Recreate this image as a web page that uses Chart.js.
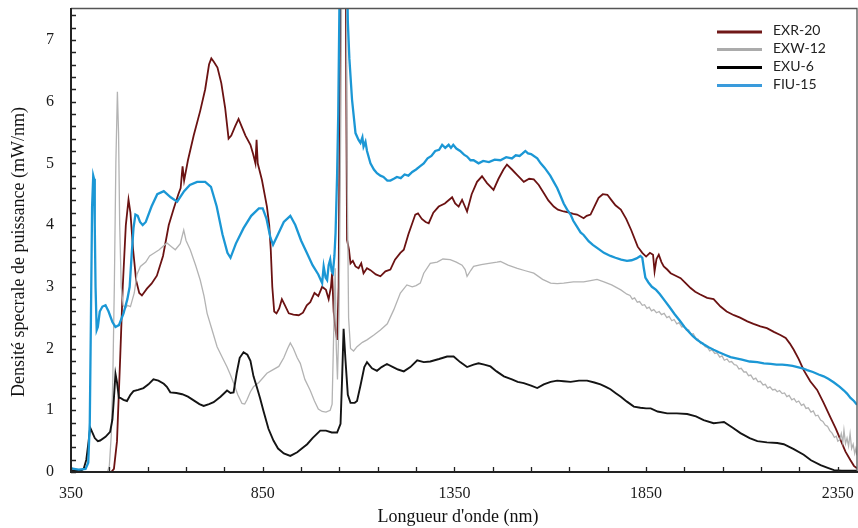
<!DOCTYPE html>
<html>
<head>
<meta charset="utf-8">
<script src="https://cdn.jsdelivr.net/npm/chart.js@4/dist/chart.umd.min.js"></script>
<style>
html,body{margin:0;padding:0;background:#fff;}
canvas{display:block;}
</style>
</head>
<body>
<canvas id="c" width="858" height="528"></canvas>
<script>
// ---- data: [wavelength nm, spectral power density mW/nm] ----
const seriesNames = ["EXR-20", "EXW-12", "EXU-6", "FIU-15"];

const exr20 = [[350,0],[455,0],[462,0.05],[470,0.5],[478,1.8],[485,3.0],[493,4.0],[500,4.41],[505,4.2],[512,3.6],[520,3.1],[528,2.9],[535,2.86],[548,2.97],[560,3.05],[574,3.18],[590,3.5],[605,4.0],[618,4.27],[630,4.5],[636,4.6],[641,4.95],[645,4.72],[655,5.05],[670,5.45],[687,5.85],[700,6.2],[710,6.6],[716,6.7],[722,6.65],[732,6.55],[742,6.3],[752,5.9],[761,5.4],[768,5.45],[778,5.6],[787,5.72],[795,5.6],[805,5.45],[818,5.3],[825,5.15],[831,5.0],[834,5.38],[837,5.0],[848,4.73],[861,4.3],[867,4.0],[871,3.6],[875,3.0],[880,2.6],[886,2.57],[893,2.65],[900,2.8],[908,2.7],[918,2.57],[930,2.55],[944,2.54],[955,2.58],[965,2.7],[974,2.75],[985,2.9],[995,2.85],[1005,3.0],[1015,2.95],[1022,2.8],[1028,3.0],[1031,3.22],[1035,2.6],[1040,2.3],[1044,2.14],[1048,3.0],[1052,7.0],[1058,12],[1064,12],[1068,6],[1070,3.76],[1075,3.6],[1079,3.38],[1085,3.42],[1092,3.33],[1100,3.3],[1107,3.38],[1113,3.22],[1122,3.3],[1131,3.27],[1145,3.2],[1157,3.17],[1170,3.25],[1183,3.28],[1195,3.44],[1209,3.55],[1218,3.6],[1230,3.85],[1248,4.17],[1255,4.19],[1265,4.1],[1275,4.05],[1283,4.03],[1295,4.2],[1309,4.3],[1325,4.35],[1344,4.45],[1352,4.35],[1361,4.3],[1370,4.41],[1383,4.22],[1395,4.5],[1409,4.7],[1422,4.79],[1435,4.68],[1452,4.57],[1465,4.75],[1478,4.9],[1487,4.98],[1500,4.9],[1514,4.81],[1531,4.7],[1545,4.75],[1557,4.74],[1570,4.65],[1583,4.52],[1595,4.4],[1609,4.3],[1620,4.25],[1635,4.22],[1650,4.2],[1660,4.18],[1670,4.17],[1687,4.11],[1695,4.15],[1705,4.17],[1715,4.3],[1726,4.44],[1737,4.5],[1749,4.49],[1760,4.4],[1770,4.32],[1784,4.25],[1798,4.1],[1811,3.92],[1828,3.65],[1840,3.55],[1850,3.49],[1860,3.55],[1868,3.52],[1872,3.25],[1877,3.45],[1883,3.52],[1890,3.4],[1896,3.33],[1905,3.28],[1914,3.22],[1927,3.18],[1940,3.14],[1953,3.06],[1966,2.98],[1978,2.92],[1990,2.88],[2009,2.82],[2026,2.8],[2044,2.68],[2060,2.6],[2079,2.54],[2095,2.5],[2114,2.44],[2130,2.4],[2148,2.36],[2165,2.33],[2183,2.27],[2200,2.22],[2214,2.17],[2225,2.08],[2235,1.98],[2248,1.83],[2261,1.65],[2278,1.47],[2296,1.33],[2313,1.12],[2331,0.88],[2345,0.7],[2357,0.52],[2370,0.33],[2383,0.19],[2392,0.1],[2400,0.06]];

const exw12 = [[350,0],[445,0],[450,0.1],[455,0.6],[459,1.5],[463,3.0],[467,5.0],[471,6.16],[474,5.5],[477,4.0],[481,3.0],[486,2.7],[492,2.65],[497,2.7],[505,2.68],[515,2.9],[522,3.2],[531,3.33],[545,3.4],[555,3.5],[565,3.54],[580,3.6],[600,3.71],[612,3.65],[622,3.6],[635,3.7],[644,3.92],[650,3.75],[661,3.6],[675,3.35],[687,3.11],[697,2.85],[705,2.57],[718,2.3],[731,2.03],[745,1.85],[757,1.7],[766,1.57],[774,1.44],[785,1.25],[796,1.11],[803,1.1],[809,1.17],[818,1.3],[826,1.38],[840,1.45],[861,1.6],[875,1.65],[892,1.71],[905,1.85],[915,2.0],[922,2.09],[930,2.0],[940,1.85],[948,1.76],[960,1.5],[974,1.32],[985,1.15],[995,1.02],[1005,0.98],[1015,0.97],[1026,1.0],[1031,1.1],[1036,2.5],[1039,3.3],[1042,2.0],[1045,1.5],[1049,2.5],[1054,6],[1060,12],[1066,12],[1070,5],[1074,2.5],[1079,2.0],[1087,1.96],[1096,2.03],[1110,2.1],[1122,2.14],[1140,2.22],[1157,2.3],[1175,2.4],[1192,2.63],[1209,2.9],[1226,3.03],[1240,3.0],[1250,3.02],[1261,3.06],[1270,3.22],[1287,3.38],[1305,3.4],[1320,3.45],[1339,3.44],[1355,3.4],[1370,3.35],[1378,3.28],[1383,3.17],[1392,3.26],[1400,3.33],[1420,3.36],[1440,3.38],[1461,3.4],[1470,3.41],[1490,3.35],[1514,3.3],[1535,3.26],[1557,3.22],[1580,3.12],[1601,3.06],[1618,3.05],[1635,3.06],[1660,3.08],[1687,3.08],[1705,3.1],[1722,3.12],[1740,3.08],[1760,3.03],[1784,2.95],[1800,2.88],[1808,2.86],[1814,2.8],[1820,2.82],[1827,2.75],[1833,2.76],[1840,2.7],[1846,2.71],[1852,2.65],[1858,2.67],[1864,2.61],[1870,2.63],[1877,2.58],[1884,2.6],[1890,2.55],[1897,2.57],[1904,2.5],[1910,2.52],[1917,2.45],[1923,2.47],[1930,2.4],[1936,2.42],[1943,2.35],[1949,2.36],[1955,2.3],[1961,2.3],[1967,2.23],[1973,2.24],[1980,2.16],[1986,2.15],[1992,2.08],[1998,2.09],[2004,2.03],[2010,2.02],[2016,1.96],[2022,1.98],[2029,1.92],[2035,1.93],[2042,1.86],[2048,1.88],[2054,1.81],[2061,1.83],[2067,1.78],[2073,1.79],[2080,1.74],[2086,1.73],[2092,1.67],[2098,1.68],[2105,1.62],[2111,1.62],[2117,1.56],[2123,1.57],[2130,1.5],[2136,1.52],[2142,1.46],[2148,1.47],[2155,1.41],[2161,1.42],[2167,1.36],[2173,1.38],[2180,1.33],[2186,1.34],[2192,1.3],[2198,1.32],[2205,1.27],[2211,1.28],[2217,1.22],[2223,1.24],[2230,1.17],[2236,1.19],[2242,1.13],[2248,1.15],[2255,1.08],[2261,1.1],[2267,1.03],[2273,1.04],[2280,0.97],[2286,0.99],[2292,0.91],[2298,0.92],[2305,0.84],[2311,0.82],[2317,0.76],[2323,0.74],[2329,0.67],[2335,0.63],[2341,0.56],[2346,0.58],[2350,0.5],[2355,0.52],[2359,0.62],[2363,0.48],[2366,0.68],[2370,0.46],[2374,0.55],[2378,0.42],[2382,0.62],[2386,0.38],[2390,0.45],[2394,0.3],[2397,0.38],[2400,0.27]];

const exu6 = [[350,0.02],[375,0.02],[383,0.05],[390,0.2],[396,0.5],[400,0.72],[405,0.65],[412,0.55],[420,0.5],[426,0.51],[440,0.57],[452,0.65],[458,0.85],[462,1.2],[466,1.59],[470,1.45],[475,1.2],[479,1.2],[487,1.17],[496,1.15],[505,1.25],[513,1.31],[525,1.33],[539,1.36],[552,1.42],[565,1.5],[578,1.48],[592,1.43],[600,1.38],[609,1.29],[625,1.28],[640,1.26],[655,1.22],[670,1.16],[685,1.1],[696,1.07],[710,1.1],[722,1.13],[740,1.22],[757,1.32],[766,1.28],[774,1.29],[782,1.6],[790,1.85],[800,1.94],[810,1.9],[818,1.8],[826,1.55],[835,1.37],[843,1.2],[852,0.99],[865,0.7],[878,0.51],[890,0.38],[905,0.3],[922,0.26],[940,0.32],[952,0.38],[966,0.45],[980,0.55],[1000,0.67],[1015,0.67],[1030,0.64],[1044,0.64],[1053,0.78],[1057,1.5],[1061,2.32],[1066,1.8],[1072,1.25],[1079,1.12],[1090,1.12],[1096,1.15],[1105,1.4],[1115,1.7],[1122,1.78],[1135,1.68],[1148,1.64],[1160,1.7],[1174,1.75],[1190,1.7],[1203,1.66],[1218,1.63],[1235,1.7],[1253,1.81],[1270,1.78],[1287,1.79],[1310,1.83],[1331,1.87],[1348,1.87],[1365,1.78],[1383,1.7],[1400,1.74],[1413,1.76],[1428,1.74],[1444,1.71],[1460,1.63],[1479,1.55],[1500,1.5],[1515,1.46],[1531,1.44],[1550,1.4],[1566,1.36],[1583,1.42],[1601,1.46],[1618,1.48],[1635,1.47],[1653,1.46],[1675,1.48],[1696,1.48],[1715,1.45],[1731,1.42],[1745,1.38],[1757,1.34],[1770,1.28],[1784,1.22],[1800,1.14],[1818,1.06],[1835,1.04],[1850,1.03],[1862,1.03],[1880,0.98],[1905,0.95],[1930,0.95],[1957,0.94],[1980,0.9],[2000,0.84],[2026,0.79],[2040,0.8],[2053,0.81],[2075,0.72],[2096,0.63],[2120,0.55],[2140,0.5],[2165,0.48],[2192,0.47],[2209,0.45],[2235,0.37],[2261,0.28],[2280,0.19],[2305,0.11],[2322,0.07],[2340,0.03],[2360,0.02],[2400,0.02]];

const fiu15 = [[350,0.06],[370,0.04],[388,0.05],[395,0.15],[399,0.8],[402,2.5],[405,4.3],[408,4.8],[410,4.75],[412,4.0],[414,3.0],[417,2.3],[420,2.35],[425,2.6],[432,2.68],[440,2.7],[448,2.6],[458,2.43],[466,2.35],[475,2.38],[487,2.57],[497,2.8],[503,3.0],[508,3.5],[513,3.95],[518,4.17],[524,4.15],[530,4.05],[537,4.0],[545,4.05],[560,4.3],[575,4.5],[592,4.55],[610,4.45],[627,4.38],[645,4.55],[660,4.65],[679,4.7],[700,4.7],[715,4.62],[730,4.3],[745,3.85],[758,3.55],[766,3.47],[780,3.7],[800,3.95],[820,4.15],[840,4.27],[850,4.27],[860,4.1],[870,3.8],[877,3.68],[890,3.85],[905,4.05],[922,4.15],[935,4.0],[950,3.75],[965,3.55],[980,3.35],[995,3.2],[1005,3.06],[1009,3.33],[1014,3.15],[1018,3.11],[1022,3.35],[1026,3.44],[1030,3.25],[1033,3.22],[1037,3.5],[1040,3.87],[1044,4.8],[1047,5.8],[1050,7.5],[1056,10],[1062,12],[1068,9],[1072,7.3],[1076,6.7],[1083,6.03],[1092,5.49],[1100,5.38],[1105,5.33],[1110,5.42],[1113,5.27],[1118,5.35],[1122,5.2],[1131,5.0],[1140,4.9],[1148,4.84],[1157,4.8],[1165,4.78],[1175,4.72],[1183,4.72],[1192,4.75],[1200,4.78],[1210,4.76],[1220,4.82],[1230,4.8],[1240,4.86],[1250,4.9],[1260,4.95],[1270,5.0],[1280,5.08],[1290,5.12],[1300,5.2],[1310,5.22],[1318,5.3],[1326,5.25],[1335,5.3],[1341,5.25],[1347,5.3],[1355,5.24],[1365,5.2],[1375,5.14],[1383,5.11],[1392,5.05],[1400,5.05],[1413,5.0],[1425,5.04],[1440,5.02],[1455,5.06],[1470,5.05],[1485,5.1],[1500,5.08],[1510,5.13],[1520,5.12],[1528,5.16],[1535,5.2],[1542,5.16],[1550,5.15],[1566,5.08],[1575,5.0],[1585,4.93],[1600,4.8],[1609,4.7],[1618,4.6],[1625,4.5],[1635,4.35],[1644,4.25],[1653,4.17],[1660,4.07],[1670,3.97],[1679,3.88],[1687,3.84],[1700,3.74],[1711,3.68],[1722,3.63],[1740,3.55],[1757,3.5],[1770,3.47],[1785,3.44],[1800,3.42],[1812,3.43],[1825,3.46],[1835,3.5],[1840,3.47],[1844,3.3],[1848,3.15],[1856,3.07],[1865,3.0],[1876,2.95],[1886,2.88],[1898,2.78],[1910,2.68],[1924,2.56],[1938,2.45],[1950,2.35],[1960,2.28],[1972,2.2],[1983,2.14],[2000,2.07],[2013,2.02],[2026,1.98],[2040,1.94],[2055,1.9],[2070,1.86],[2085,1.84],[2100,1.82],[2120,1.79],[2140,1.78],[2157,1.76],[2175,1.75],[2190,1.74],[2205,1.74],[2218,1.73],[2232,1.72],[2245,1.7],[2258,1.68],[2270,1.65],[2285,1.62],[2300,1.58],[2313,1.55],[2325,1.51],[2340,1.45],[2355,1.38],[2366,1.32],[2374,1.27],[2383,1.2],[2392,1.15],[2400,1.09]];

const xTickLabels = [350, 850, 1350, 1850, 2350];
const yTickLabels = [0, 1, 2, 3, 4, 5, 6, 7];
const xTitle = "Longueur d'onde (nm)";
const yTitle = "Densité specrale de puissance (mW/nm)";

// ---- styles ----
const colors = ["#6b1212", "#b3b3b3", "#141414", "#1b97d5"];
const legendColors = ["#701818", "#ababab", "#000000", "#3a9bdc"];
const widths = [1.8, 1.3, 1.9, 2.3];
const allSeries = [exr20, exw12, exu6, fiu15];

// minor tick positions (every 100 nm, every 0.2 mW/nm)
const xMinor = [];
for (let v = 350; v <= 2350; v += 100) xMinor.push(v);
const yMinor = [];
for (let i = 0; i <= 37; i++) yMinor.push(Math.round(i * 2) / 10);

const datasets = allSeries.map((s, i) => ({
  label: seriesNames[i],
  data: s.map(p => ({x: p[0], y: p[1]})),
  borderColor: colors[i],
  backgroundColor: colors[i],
  borderWidth: widths[i],
  pointRadius: 0,
  tension: 0,
  fill: false,
  order: 3 - i
}));

const serif = "'Liberation Serif', 'Times New Roman', serif";

const decor = {
  id: 'decor',
  afterDatasetsDraw(chart) {
    const {ctx, chartArea: a, scales: {x, y}} = chart;
    ctx.save();
    // frame (top/right)
    ctx.strokeStyle = '#555';
    ctx.lineWidth = 1.3;
    ctx.beginPath();
    ctx.moveTo(a.left, a.top - 0.5);
    ctx.lineTo(a.right, a.top - 0.5);
    ctx.lineTo(a.right, a.bottom);
    ctx.stroke();
    // axes
    ctx.strokeStyle = '#222';
    ctx.lineWidth = 2;
    ctx.beginPath();
    ctx.moveTo(a.left, a.top - 1);
    ctx.lineTo(a.left, a.bottom);
    ctx.lineTo(a.right + 1, a.bottom);
    ctx.stroke();
    // inward ticks
    ctx.lineWidth = 1.3;
    ctx.beginPath();
    xMinor.forEach(v => {
      const px = Math.round(x.getPixelForValue(v)) + 0.5;
      ctx.moveTo(px, a.bottom);
      ctx.lineTo(px, a.bottom - 5);
    });
    yMinor.forEach(v => {
      const py = Math.round(y.getPixelForValue(v)) + 0.5;
      ctx.moveTo(a.left, py);
      ctx.lineTo(a.left + 5, py);
    });
    ctx.stroke();
    ctx.restore();
  },
  afterDraw(chart) {
    const {ctx} = chart;
    ctx.save();
    // axis titles
    ctx.fillStyle = '#111';
    ctx.font = "18px " + serif;
    ctx.textAlign = 'center';
    ctx.textBaseline = 'middle';
    ctx.fillText(xTitle, 458, 517);
    ctx.save();
    ctx.translate(19, 252);
    ctx.rotate(-Math.PI / 2);
    ctx.fillText(yTitle, 0, 0);
    ctx.restore();
    // legend
    ctx.font = "14px Lato, 'Liberation Sans', sans-serif";
    ctx.textAlign = 'left';
    ctx.textBaseline = 'middle';
    const rows = [30.5, 48, 66, 84];
    seriesNames.forEach((n, i) => {
      ctx.strokeStyle = legendColors[i];
      ctx.lineWidth = 3;
      ctx.beginPath();
      ctx.moveTo(717, rows[i] + 1.5);
      ctx.lineTo(762, rows[i] + 1.5);
      ctx.stroke();
      ctx.fillStyle = '#222';
      ctx.fillText(n, 773, rows[i]);
    });
    ctx.restore();
  }
};

new Chart(document.getElementById('c'), {
  type: 'line',
  data: {datasets},
  plugins: [decor],
  options: {
    responsive: false,
    animation: false,
    devicePixelRatio: 1,
    layout: {padding: {top: 9, right: 1, left: 0, bottom: 0}},
    plugins: {legend: {display: false}, tooltip: {enabled: false}},
    elements: {point: {radius: 0}},
    scales: {
      x: {
        type: 'linear', min: 350, max: 2400,
        grid: {display: false, drawTicks: false},
        border: {display: false},
        afterBuildTicks: s => { s.ticks = xMinor.map(v => ({value: v})); },
        afterFit: s => { s.height = 56; s.paddingLeft = 0; s.paddingRight = 0; },
        ticks: {
          autoSkip: false, maxRotation: 0, padding: 12,
          color: '#1a1a1a', font: {family: serif, size: 16},
          callback: v => xTickLabels.includes(v) ? String(v) : ''
        }
      },
      y: {
        type: 'linear', min: 0, max: 7.5,
        grid: {display: false, drawTicks: false},
        border: {display: false},
        afterBuildTicks: s => { s.ticks = yMinor.map(v => ({value: v})); },
        afterFit: s => { s.width = 71; s.paddingTop = 0; s.paddingBottom = 0; },
        ticks: {
          autoSkip: false, padding: 17,
          color: '#1a1a1a', font: {family: serif, size: 16},
          callback: v => yTickLabels.includes(v) ? String(v) : ''
        }
      }
    }
  }
});
</script>
</body>
</html>
